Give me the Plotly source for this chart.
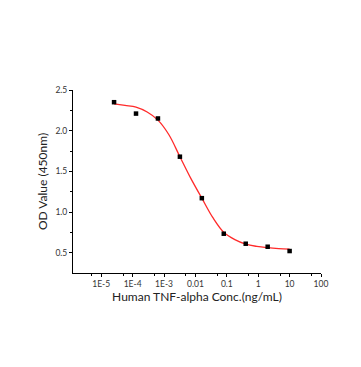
import plotly.graph_objects as go

# measured points (serial 1:5 dilution from 10 ng/mL)
conc = [0.0000256, 0.000128, 0.00064, 0.0032, 0.016, 0.08, 0.4, 2, 10]
od = [2.35, 2.21, 2.15, 1.68, 1.17, 0.733, 0.61, 0.573, 0.52]

# fitted curve
fit_conc = [0.0000256, 0.000057, 0.000128, 0.00029, 0.00064, 0.00143, 0.0032,
            0.0072, 0.016, 0.036, 0.08, 0.18, 0.4, 0.9, 2, 4.5, 10]
fit_od = [2.33, 2.31, 2.29, 2.23, 2.13, 1.95, 1.68,
          1.41, 1.17, 0.93, 0.75, 0.66, 0.605, 0.577, 0.561, 0.55, 0.543]

x_ticks = [1e-5, 1e-4, 1e-3, 0.01, 0.1, 1, 10, 100]
x_ticktext = ["1E-5", "1E-4", "1E-3", "0.01", "0.1", "1", "10", "100"]
x_minor = [5e-6, 5e-5, 5e-4, 5e-3, 0.05, 0.5, 5, 50]
y_ticks = [0.5, 1.0, 1.5, 2.0, 2.5]
y_minor = [0.75, 1.25, 1.75, 2.25]

fig = go.Figure()
fig.add_trace(go.Scatter(x=fit_conc, y=fit_od, mode="lines",
                         line=dict(color="#ff2a2a", width=1.3, shape="spline"),
                         showlegend=False, hoverinfo="skip"))
fig.add_trace(go.Scatter(x=conc, y=od, mode="markers",
                         marker=dict(symbol="square", size=4.5, color="black"),
                         showlegend=False))

axis_font = dict(family="Lato, sans-serif", size=12, color="#222")
tick_font = dict(family="Lato, sans-serif", size=8.5, color="#333")

# page body has an 8px default margin, so the figure is drawn 8px smaller
fig.update_layout(
    width=353, height=359,
    margin=dict(l=65, r=40, t=82, b=94),
    paper_bgcolor="white", plot_bgcolor="white",
    xaxis=dict(type="log", range=[-5.9, 2], tickmode="array",
               tickvals=x_ticks, ticktext=x_ticktext, automargin=False,
               ticks="outside", ticklen=3, tickwidth=1, tickcolor="black",
               minor=dict(tickmode="array", tickvals=x_minor, ticks="outside",
                          ticklen=2, tickcolor="black", showgrid=False),
               showline=True, linecolor="black", linewidth=1,
               showgrid=False, zeroline=False, tickfont=tick_font,
               title=dict(text="Human TNF-alpha Conc.(ng/mL)", font=axis_font,
                          standoff=3)),
    yaxis=dict(range=[0.25, 2.5], tickmode="array", tickvals=y_ticks,
               tickformat=".1f", automargin=False,
               ticks="outside", ticklen=3, tickwidth=1, tickcolor="black",
               minor=dict(tickmode="array", tickvals=y_minor, ticks="outside",
                          ticklen=2, tickcolor="black", showgrid=False),
               showline=True, linecolor="black", linewidth=1,
               showgrid=False, zeroline=False, tickfont=tick_font,
               title=dict(text="OD Value (450nm)", font=axis_font, standoff=5)),
)

fig.write_html("out.html")
